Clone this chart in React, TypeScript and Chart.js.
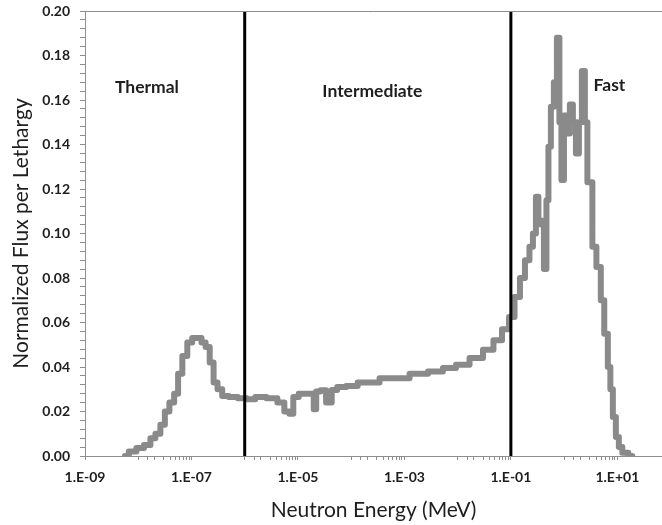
import React, { useEffect, useRef } from 'react';
import { Chart, registerables } from 'chart.js';
Chart.register(...registerables);

// Neutron energy bins (MeV) and normalized flux per lethargy
const energyMeV = [
  5.6e-9, 7.9e-9, 1.08e-8, 1.52e-8, 1.89e-8, 2.34e-8, 2.9e-8, 3.45e-8, 4.3e-8, 5.2e-8,
  6.05e-8, 7.5e-8, 9.3e-8, 1.15e-7, 1.4e-7, 1.7e-7, 2.0e-7, 2.42e-7, 2.8e-7, 3.4e-7,
  4.2e-7, 6.0e-7, 9.2e-7,
  1.3e-6, 1.92e-6, 3.4e-6, 4.97e-6, 6.2e-6, 7.7e-6, 8.7e-6, 1.23e-5, 1.9e-5, 2.07e-5,
  2.35e-5, 3.0e-5, 3.8e-5, 4.9e-5, 6.1e-5, 1.07e-4, 1.64e-4, 2.53e-4, 4.6e-4, 8.1e-4,
  1.93e-3, 4.0e-3, 7.0e-3, 1.24e-2, 2.26e-2, 3.96e-2, 5.6e-2, 8.3e-2, 0.103,
  0.133, 0.165, 0.205, 0.243, 0.277, 0.315, 0.344, 0.39, 0.446, 0.486, 0.53, 0.6,
  0.687, 0.78, 0.853, 0.93, 1.06, 1.2, 1.37, 1.56, 1.78, 2.02, 2.3, 2.62, 2.86, 3.25,
  3.55, 4.6, 5.2, 6.2, 7.1, 7.7, 8.8, 10, 11.4, 13.5, 19.1,
];
const fluxPerLethargy = [
  0.0, 0.002, 0.0036, 0.005, 0.008, 0.010, 0.014, 0.020, 0.024, 0.028,
  0.037, 0.045, 0.051, 0.053, 0.053, 0.051, 0.049, 0.042, 0.033, 0.030,
  0.027, 0.0265, 0.026,
  0.0255, 0.0265, 0.026, 0.024, 0.020, 0.019, 0.0265, 0.028, 0.028, 0.021,
  0.029, 0.0295, 0.024, 0.0297, 0.031, 0.0315, 0.033, 0.033, 0.035, 0.035,
  0.037, 0.038, 0.0395, 0.041, 0.044, 0.0477, 0.052, 0.057, 0.0625,
  0.0715, 0.080, 0.088, 0.094, 0.100, 0.1165, 0.106, 0.104, 0.084, 0.115, 0.139, 0.157,
  0.168, 0.188, 0.150, 0.124, 0.153, 0.145, 0.158, 0.150, 0.136, 0.150, 0.173, 0.150, 0.123, 0.123,
  0.094, 0.085, 0.070, 0.055, 0.040, 0.030, 0.0175, 0.0085, 0.004, 0.0015, 0.0,
];

const boundaryEnergies = [1e-6, 1e-1];
const regionNames = ['Thermal', 'Intermediate', 'Fast'];
const regionEnergy = [1.46e-8, 2.5e-4, 7.1];
const regionFlux = [0.1655, 0.164, 0.1665];

const xMin = 1e-9;
const xMax = 69;
const yMin = 0;
const yMax = 0.2;
const yMinorStep = 0.004;

const AXIS_GRAY = '#8e8e8e';
const TEXT = '#1e1e1e';
const FONT = 'Lato, "Open Sans", sans-serif';

function expInfo(v: number) {
  const l = Math.log10(v);
  const e = Math.floor(l + 1e-9);
  const sig = v / Math.pow(10, e);
  return { e, isPow: Math.abs(sig - 1) < 1e-6 };
}

function fmtExp(e: number) {
  const s = e < 0 ? '-' : '+';
  const a = Math.abs(e);
  return `1.E${s}${a < 10 ? '0' + a : a}`;
}

export default function App() {
  const ref = useRef<HTMLCanvasElement>(null);
  useEffect(() => {
    if (!ref.current) return;
    const curve = energyMeV.map((x, i) => ({ x, y: fluxPerLethargy[i] }));
    const boundarySets = boundaryEnergies.map((e) => ({
      data: [{ x: e, y: yMin }, { x: e, y: yMax }],
      borderColor: '#000000',
      borderWidth: 3,
      pointRadius: 0,
      fill: false,
      tension: 0,
    }));

    const framePlugin = {
      id: 'frameAndLabels',
      afterDraw(chart: any) {
        const { ctx, chartArea, scales } = chart;
        ctx.save();
        ctx.strokeStyle = AXIS_GRAY;
        ctx.lineWidth = 1;
        ctx.beginPath();
        ctx.moveTo(chartArea.left, chartArea.top + 0.5);
        ctx.lineTo(chartArea.right, chartArea.top + 0.5);
        ctx.stroke();
        ctx.fillStyle = TEXT;
        ctx.font = `bold 17.5px ${FONT}`;
        ctx.textAlign = 'center';
        ctx.textBaseline = 'middle';
        regionNames.forEach((name, i) => {
          ctx.fillText(name, scales.x.getPixelForValue(regionEnergy[i]), scales.y.getPixelForValue(regionFlux[i]));
        });
        ctx.restore();
      },
    };

    const chart = new Chart(ref.current, {
      type: 'line',
      data: {
        datasets: [
          ...boundarySets,
          {
            data: curve,
            borderColor: '#8a8a8a',
            borderWidth: 6,
            pointRadius: 0,
            stepped: 'middle',
            fill: false,
            borderJoinStyle: 'round',
            borderCapStyle: 'round',
          },
        ] as any,
      },
      options: {
        animation: false,
        responsive: true,
        maintainAspectRatio: false,
        layout: { padding: { top: 11, left: 0, right: 0, bottom: 0 } },
        plugins: { legend: { display: false }, tooltip: { enabled: false } },
        scales: {
          x: {
            type: 'logarithmic',
            min: xMin,
            max: xMax,
            afterBuildTicks(scale: any) {
              scale.ticks = scale.ticks.filter((t: any) => {
                const { e, isPow } = expInfo(t.value);
                return e % 2 === 0 || isPow;
              });
            },
            afterFit(scale: any) {
              scale.height = 69;
              scale.paddingLeft = 0;
              scale.paddingRight = 0;
            },
            ticks: {
              autoSkip: false,
              maxRotation: 0,
              minRotation: 0,
              padding: 9,
              color: TEXT,
              font: { family: FONT, size: 14, weight: 'bold' },
              callback(value: any) {
                const { e, isPow } = expInfo(Number(value));
                return isPow && Math.abs(e % 2) === 1 ? fmtExp(e) : '';
              },
            },
            grid: {
              drawOnChartArea: false,
              drawTicks: true,
              tickLength: 4,
              color: AXIS_GRAY,
            },
            border: { display: true, color: AXIS_GRAY, width: 1 },
            title: {
              display: true,
              text: 'Neutron Energy (MeV)',
              color: TEXT,
              font: { family: FONT, size: 21, weight: 'normal' },
              padding: { top: 0, bottom: 2 },
            },
          },
          y: {
            type: 'linear',
            min: yMin,
            max: yMax,
            afterFit(scale: any) {
              scale.width = 85;
              scale.paddingTop = 0;
              scale.paddingBottom = 0;
            },
            ticks: {
              stepSize: yMinorStep,
              autoSkip: false,
              padding: 10,
              color: TEXT,
              font: { family: FONT, size: 14, weight: 'bold' },
              callback(value: any) {
                const v = Number(value);
                return Math.abs(v * 50 - Math.round(v * 50)) < 1e-6 ? v.toFixed(2) : '';
              },
            },
            grid: {
              drawOnChartArea: false,
              drawTicks: true,
              tickLength: 5,
              color: AXIS_GRAY,
            },
            border: { display: true, color: AXIS_GRAY, width: 1 },
            title: {
              display: true,
              text: 'Normalized Flux per Lethargy',
              color: TEXT,
              font: { family: FONT, size: 21, weight: 'normal' },
              padding: { top: 9, bottom: 0 },
            },
          },
        },
      } as any,
      plugins: [framePlugin],
    });
    return () => chart.destroy();
  }, []);
  return (
    <div style={{ position: 'absolute', left: 0, top: 0, width: 662, height: 525, background: '#fff' }}>
      <canvas ref={ref} />
    </div>
  );
}
